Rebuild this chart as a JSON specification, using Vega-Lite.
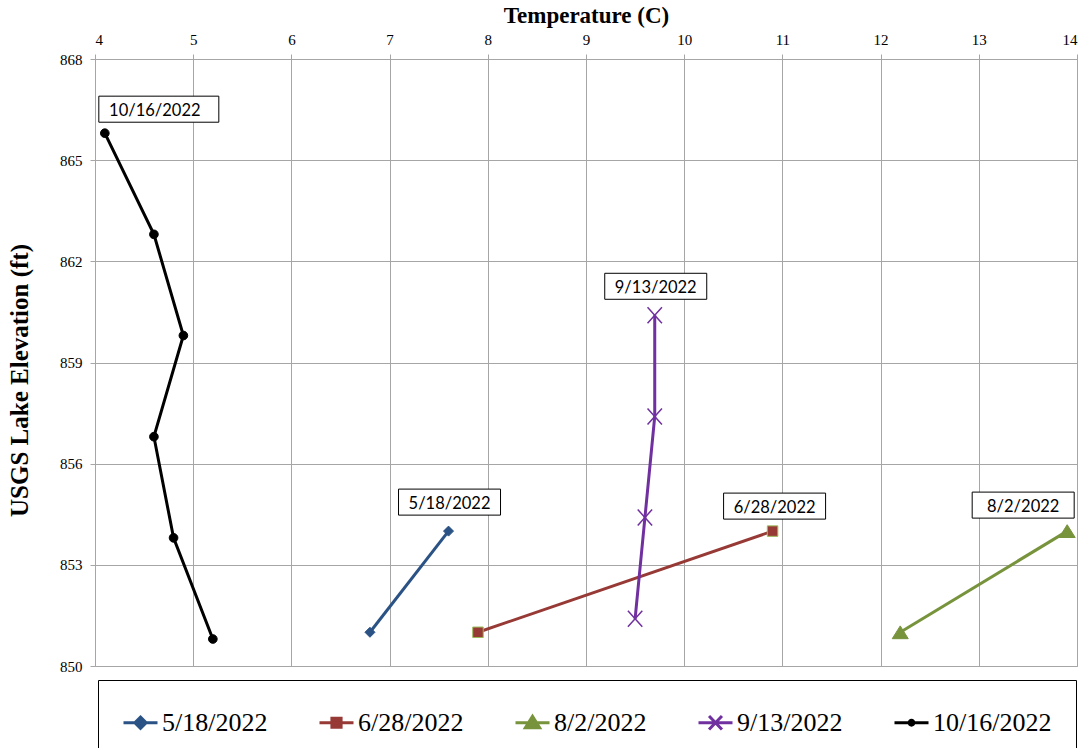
{
  "$schema": "https://vega.github.io/schema/vega-lite/v6.json",
  "width": 982,
  "height": 607,
  "autosize": {"type": "none"},
  "padding": {"left": 95, "top": 59, "right": 14, "bottom": 82},
  "background": "white",
  "config": {
    "view": {"stroke": "#a6a6a6"},
    "axis": {
      "labelFont": "Liberation Serif",
      "titleFont": "Liberation Serif",
      "labelColor": "#000000",
      "titleColor": "#000000",
      "gridColor": "#a6a6a6",
      "domainColor": "#a6a6a6",
      "tickColor": "#a6a6a6",
      "labelFontSize": 15,
      "titleFontSize": 23,
      "titleFontWeight": "bold",
      "tickSize": 5
    },
    "legend": {
      "labelFont": "Liberation Serif",
      "labelFontSize": 26,
      "labelColor": "#000000",
      "labelLimit": 300,
      "symbolSize": 1156,
      "symbolStrokeWidth": 3,
      "labelOffset": 3
    }
  },
  "data": {
    "values": [
      {"series": "5/18/2022", "temp": 6.8, "elev": 851.0},
      {"series": "5/18/2022", "temp": 7.6, "elev": 854.0},
      {"series": "6/28/2022", "temp": 7.9, "elev": 851.0},
      {"series": "6/28/2022", "temp": 10.9, "elev": 854.0},
      {"series": "8/2/2022", "temp": 12.2, "elev": 851.0},
      {"series": "8/2/2022", "temp": 13.9, "elev": 854.0},
      {"series": "9/13/2022", "temp": 9.5, "elev": 851.4},
      {"series": "9/13/2022", "temp": 9.6, "elev": 854.4},
      {"series": "9/13/2022", "temp": 9.7, "elev": 857.4},
      {"series": "9/13/2022", "temp": 9.7, "elev": 860.4},
      {"series": "10/16/2022", "temp": 4.1, "elev": 865.8},
      {"series": "10/16/2022", "temp": 4.6, "elev": 862.8},
      {"series": "10/16/2022", "temp": 4.9, "elev": 859.8},
      {"series": "10/16/2022", "temp": 4.6, "elev": 856.8},
      {"series": "10/16/2022", "temp": 4.8, "elev": 853.8},
      {"series": "10/16/2022", "temp": 5.2, "elev": 850.8}
    ]
  },
  "encoding": {
    "x": {
      "field": "temp",
      "type": "quantitative",
      "scale": {"domain": [4, 14], "nice": false, "zero": false},
      "axis": {
        "orient": "top",
        "title": "Temperature (C)",
        "values": [4, 5, 6, 7, 8, 9, 10, 11, 12, 13, 14],
        "format": "d",
        "labelPadding": 7,
        "titlePadding": 5
      }
    },
    "y": {
      "field": "elev",
      "type": "quantitative",
      "scale": {"domain": [850, 868], "nice": false, "zero": false},
      "axis": {
        "title": "USGS Lake Elevation (ft)",
        "titleFontSize": 25,
        "values": [850, 853, 856, 859, 862, 865, 868],
        "labelPadding": 8,
        "titleX": -63,
        "titleY": 321,
        "titleAlign": "center",
        "titleAngle": -90,
        "titleBaseline": "bottom"
      }
    }
  },
  "layer": [
    {
      "mark": {"type": "line", "strokeWidth": 3},
      "encoding": {
        "color": {
          "field": "series",
          "type": "nominal",
          "scale": {
            "domain": ["5/18/2022", "6/28/2022", "8/2/2022", "9/13/2022", "10/16/2022"],
            "range": ["#2A5285", "#973A36", "#77933C", "#7030A0", "#000000"]
          }
        },
        "order": {"field": "elev", "sort": "descending"}
      }
    },
    {
      "transform": [{"filter": {"field": "series", "equal": "5/18/2022"}}],
      "mark": {"type": "point", "shape": "diamond", "size": 100, "filled": true, "fill": "#2A5285", "stroke": "#2A5285", "strokeWidth": 1, "opacity": 1}
    },
    {
      "transform": [{"filter": {"field": "series", "equal": "6/28/2022"}}],
      "mark": {"type": "point", "shape": "square", "size": 110, "filled": true, "fill": "#973A36", "stroke": "#9BBB59", "strokeWidth": 1, "opacity": 1}
    },
    {
      "transform": [{"filter": {"field": "series", "equal": "8/2/2022"}}],
      "mark": {"type": "point", "shape": "M0,-0.8L1,0.8H-1Z", "size": 256, "filled": true, "fill": "#77933C", "stroke": "#77933C", "strokeWidth": 1, "opacity": 1}
    },
    {
      "transform": [{"filter": {"field": "series", "equal": "9/13/2022"}}],
      "mark": {"type": "point", "shape": "M-0.9,-1L0.9,1M-0.9,1L0.9,-1", "size": 256, "filled": false, "stroke": "#7030A0", "strokeWidth": 1.5, "opacity": 1}
    },
    {
      "transform": [{"filter": {"field": "series", "equal": "10/16/2022"}}],
      "mark": {"type": "point", "shape": "circle", "size": 75, "filled": true, "fill": "#000000", "stroke": "#000000", "strokeWidth": 1, "opacity": 1}
    },
    {
      "transform": [{"filter": "datum.temp < 0"}],
      "mark": {"type": "point", "filled": true, "opacity": 1},
      "encoding": {
        "color": {
          "field": "series",
          "type": "nominal",
          "scale": {
            "domain": ["5/18/2022", "6/28/2022", "8/2/2022", "9/13/2022", "10/16/2022"],
            "range": ["#2A5285", "#973A36", "#77933C", "#7030A0", "#000000"]
          },
          "legend": {
            "orient": "none",
            "legendX": 3,
            "legendY": 621,
            "direction": "horizontal",
            "columns": 5,
            "title": null,
            "strokeColor": "#000000",
            "fillColor": "#ffffff",
            "padding": 24,
            "columnPadding": 45,
            "gridAlign": "each"
          }
        },
        "stroke": {
          "field": "series",
          "type": "nominal",
          "scale": {
            "domain": ["5/18/2022", "6/28/2022", "8/2/2022", "9/13/2022", "10/16/2022"],
            "range": ["#2A5285", "#973A36", "#77933C", "#7030A0", "#000000"]
          }
        },
        "shape": {
          "field": "series",
          "type": "nominal",
          "scale": {
            "domain": ["5/18/2022", "6/28/2022", "8/2/2022", "9/13/2022", "10/16/2022"],
            "range": [
              "M-1,0H1M0,-0.33L0.33,0L0,0.33L-0.33,0Z",
              "M-1,0H1M-0.27,-0.27H0.27V0.27H-0.27Z",
              "M-1,0H1M0,-0.38L0.42,0.3H-0.42Z",
              "M-1,0H1M-0.38,-0.4L0.38,0.4M-0.38,0.4L0.38,-0.4",
              "M-1,0H1M0.14,0A0.14,0.14 0 1,1 -0.14,0A0.14,0.14 0 1,1 0.14,0Z"
            ]
          }
        }
      }
    },
    {
      "transform": [
        {"joinaggregate": [{"op": "max", "field": "elev", "as": "top"}], "groupby": ["series"]},
        {"filter": "datum.elev == datum.top"}
      ],
      "layer": [
        {
          "transform": [{"filter": {"field": "series", "oneOf": ["5/18/2022", "9/13/2022"]}}],
          "layer": [
            {"mark": {"type": "point", "shape": "M-1,-0.255H1V0.255H-1Z", "size": 10404, "filled": true, "fill": "#ffffff", "stroke": "#000000", "strokeWidth": 1, "opacity": 1, "xOffset": 1, "yOffset": -29}},
            {"mark": {"type": "text", "font": "Lato", "fontSize": 16.5, "color": "#000000", "align": "center", "baseline": "middle", "dx": 1, "dy": -27}, "encoding": {"text": {"field": "series"}}}
          ]
        },
        {
          "transform": [{"filter": {"field": "series", "equal": "6/28/2022"}}],
          "layer": [
            {"mark": {"type": "point", "shape": "M-1,-0.255H1V0.255H-1Z", "size": 10404, "filled": true, "fill": "#ffffff", "stroke": "#000000", "strokeWidth": 1, "opacity": 1, "xOffset": 2, "yOffset": -25}},
            {"mark": {"type": "text", "font": "Lato", "fontSize": 16.5, "color": "#000000", "align": "center", "baseline": "middle", "dx": 2, "dy": -23}, "encoding": {"text": {"field": "series"}}}
          ]
        },
        {
          "transform": [{"filter": {"field": "series", "equal": "8/2/2022"}}],
          "layer": [
            {"mark": {"type": "point", "shape": "M-1,-0.255H1V0.255H-1Z", "size": 10404, "filled": true, "fill": "#ffffff", "stroke": "#000000", "strokeWidth": 1, "opacity": 1, "xOffset": -44, "yOffset": -26}},
            {"mark": {"type": "text", "font": "Lato", "fontSize": 16.5, "color": "#000000", "align": "center", "baseline": "middle", "dx": -44, "dy": -24}, "encoding": {"text": {"field": "series"}}}
          ]
        },
        {
          "transform": [{"filter": {"field": "series", "equal": "10/16/2022"}}],
          "layer": [
            {"mark": {"type": "point", "shape": "M-1,-0.217H1V0.217H-1Z", "size": 14400, "filled": true, "fill": "#ffffff", "stroke": "#000000", "strokeWidth": 1, "opacity": 1, "xOffset": 54, "yOffset": -24}},
            {"mark": {"type": "text", "font": "Lato", "fontSize": 16.5, "color": "#000000", "align": "center", "baseline": "middle", "dx": 50, "dy": -22}, "encoding": {"text": {"field": "series"}}}
          ]
        }
      ]
    }
  ]
}
